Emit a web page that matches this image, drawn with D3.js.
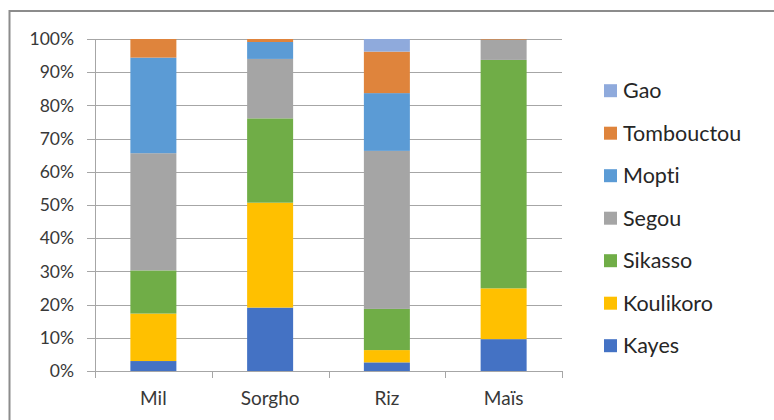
<!DOCTYPE html>
<html>
<head>
<meta charset="utf-8">
<script src="https://cdn.jsdelivr.net/npm/d3@7"></script>
<style>
  html, body { margin: 0; padding: 0; background: #fff; }
  svg { display: block; }
  text { font-variant-ligatures: none; font-feature-settings: "liga" 0, "clig" 0; }
</style>
</head>
<body>
<svg id="chart" width="774" height="420"></svg>
<script>
// Crops on the x axis
const crops = ["Mil", "Sorgho", "Riz", "Maïs"];
// Regions, bottom of the stack first
const regions = ["Kayes", "Koulikoro", "Sikasso", "Segou", "Mopti", "Tombouctou", "Gao"];
const regionColors = ["#4472C4", "#FFC000", "#70AD47", "#A5A5A5", "#5B9BD5", "#DF843C", "#8FAADC"];
// Share of each crop by region (%), one array per region in crop order
const kayes      = [3.0, 19.1, 2.6, 9.6];
const koulikoro  = [14.3, 31.6, 3.7, 15.3];
const sikasso    = [13.0, 25.4, 12.4, 68.8];
const segou      = [35.3, 17.9, 47.6, 6.0];
const mopti      = [28.8, 5.1, 17.4, 0.1];
const tombouctou = [5.6, 0.9, 12.5, 0.2];
const gao        = [0.0, 0.0, 3.8, 0.0];
const yTicks = [0, 0.1, 0.2, 0.3, 0.4, 0.5, 0.6, 0.7, 0.8, 0.9, 1];

const seriesValues = [kayes, koulikoro, sikasso, segou, mopti, tombouctou, gao];
const rows = crops.map((c, i) => {
  const r = { crop: c };
  regions.forEach((reg, j) => { r[reg] = seriesValues[j][i]; });
  return r;
});

const svg = d3.select("#chart");
const font = "Lato, 'Open Sans', sans-serif";
const textColor = "#383838";
const gridColor = "#A6A6A6";

// Outer chart frame
svg.append("rect")
  .attr("x", 9.5).attr("y", 11)
  .attr("width", 780).attr("height", 420)
  .attr("fill", "none").attr("stroke", "#8C8C8C").attr("stroke-width", 2);

const plot = { left: 95, right: 562, top: 39, bottom: 371 };

const x = d3.scaleBand().domain(crops)
  .range([plot.left, plot.right]).paddingInner(0.606).paddingOuter(0.303);
const y = d3.scaleLinear().domain([0, 1]).range([plot.bottom, plot.top]);

// Horizontal gridlines with left tick stubs
svg.append("g")
  .selectAll("line").data(yTicks).join("line")
  .attr("x1", plot.left - 8).attr("x2", plot.right)
  .attr("y1", d => Math.round(y(d)) + 0.5).attr("y2", d => Math.round(y(d)) + 0.5)
  .attr("stroke", gridColor).attr("stroke-width", 1);

// Y tick labels
svg.append("g")
  .selectAll("text").data(yTicks).join("text")
  .attr("x", 74).attr("y", d => y(d))
  .attr("dy", "0.35em")
  .attr("text-anchor", "end")
  .attr("font-family", font).attr("font-size", 17.5)
  .attr("fill", textColor)
  .text(d3.format(".0%"));

// Stacked bars
const stack = d3.stack().keys(regions).offset(d3.stackOffsetExpand);
const layers = stack(rows);
svg.append("g")
  .selectAll("g").data(layers).join("g")
  .attr("fill", (d, i) => regionColors[i])
  .selectAll("rect").data(d => d).join("rect")
  .attr("x", d => x(d.data.crop))
  .attr("width", x.bandwidth())
  .attr("y", d => y(d[1]))
  .attr("height", d => Math.max(0, y(d[0]) - y(d[1])));

// Y axis line and category tick marks
svg.append("line")
  .attr("x1", plot.left + 0.5).attr("x2", plot.left + 0.5)
  .attr("y1", plot.top).attr("y2", plot.bottom + 7)
  .attr("stroke", gridColor);
svg.append("line")
  .attr("x1", plot.left - 8).attr("x2", plot.right)
  .attr("y1", plot.bottom + 0.5).attr("y2", plot.bottom + 0.5)
  .attr("stroke", gridColor);
const boundaries = d3.range(crops.length + 1).map(i => plot.left + i * (plot.right - plot.left) / crops.length);
svg.append("g")
  .selectAll("line").data(boundaries).join("line")
  .attr("x1", d => Math.round(d) + 0.5).attr("x2", d => Math.round(d) + 0.5)
  .attr("y1", plot.bottom).attr("y2", plot.bottom + 7)
  .attr("stroke", gridColor);

// X labels
svg.append("g")
  .selectAll("text").data(crops).join("text")
  .attr("x", d => x(d) + x.bandwidth() / 2)
  .attr("y", 398).attr("dy", "0.35em")
  .attr("text-anchor", "middle")
  .attr("font-family", font).attr("font-size", 19)
  .attr("fill", textColor)
  .text(d => d);

// Legend, top entry is the top of the stack
const legendOrder = regions.map((r, i) => ({ name: r, color: regionColors[i] })).reverse();
const lg = svg.append("g")
  .selectAll("g").data(legendOrder).join("g")
  .attr("transform", (d, i) => `translate(604, ${90.7 + i * 42.5})`);
lg.append("rect")
  .attr("x", 0).attr("y", -6.5).attr("width", 13).attr("height", 13)
  .attr("fill", d => d.color);
lg.append("text")
  .attr("x", 19).attr("y", 0).attr("dy", "0.35em")
  .attr("font-family", font).attr("font-size", 21.5)
  .attr("fill", "#262626")
  .text(d => d.name);
</script>
</body>
</html>
